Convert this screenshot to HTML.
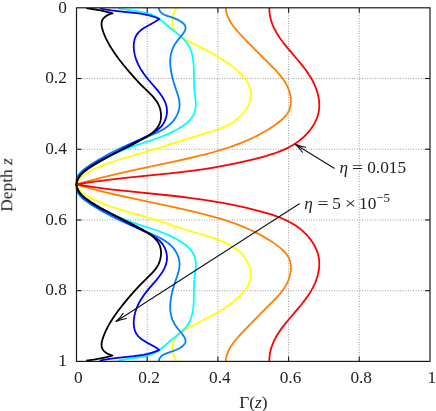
<!DOCTYPE html>
<html><head><meta charset="utf-8"><style>
html,body{margin:0;padding:0;background:#fff;}
svg{display:block;}
text{font-family:"Liberation Serif",serif;font-size:17.3px;fill:#222;}
.tx{filter:grayscale(1);}
</style></head><body>
<svg width="436" height="411" viewBox="0 0 436 411">
<rect x="0" y="0" width="436" height="411" fill="#fff"/>
<defs><clipPath id="cp"><rect x="75" y="7.80" width="360" height="353.60"/></clipPath></defs>
<g stroke="#777" stroke-width="0.8" stroke-dasharray="0.9,1.65" fill="none">
<line x1="147.20" y1="7.80" x2="147.20" y2="361.40"/>
<line x1="76.50" y1="78.52" x2="430.00" y2="78.52"/>
<line x1="217.90" y1="7.80" x2="217.90" y2="361.40"/>
<line x1="76.50" y1="149.24" x2="430.00" y2="149.24"/>
<line x1="288.60" y1="7.80" x2="288.60" y2="361.40"/>
<line x1="76.50" y1="219.96" x2="430.00" y2="219.96"/>
<line x1="359.30" y1="7.80" x2="359.30" y2="361.40"/>
<line x1="76.50" y1="290.68" x2="430.00" y2="290.68"/>
</g>
<g fill="none" stroke-width="1.8" stroke-linejoin="round" clip-path="url(#cp)">
<path d="M225.70,7.50 L225.98,9.96 L226.50,12.54 L227.23,15.01 L228.23,17.58 L229.44,20.06 L230.82,22.45 L232.46,24.93 L234.50,27.65 L236.55,30.14 L239.11,33.01 L247.43,41.77 L259.33,53.94 L273.60,68.19 L277.23,71.99 L280.02,75.16 L282.38,78.14 L284.43,81.08 L286.17,83.98 L287.26,86.10 L288.24,88.30 L289.07,90.57 L289.71,92.73 L290.22,94.96 L290.58,97.26 L290.79,99.58 L290.84,101.90 L290.71,103.97 L290.47,105.79 L290.08,107.54 L289.48,109.39 L288.80,110.98 L287.90,112.65 L286.85,114.23 L285.57,115.88 L283.74,117.87 L281.75,119.73 L279.32,121.75 L276.31,124.02 L272.73,126.53 L269.08,128.91 L265.19,131.28 L261.23,133.54 L257.38,135.58 L253.47,137.53 L249.50,139.38 L245.31,141.21 L241.06,142.96 L236.58,144.68 L231.86,146.38 L227.10,147.99 L220.18,150.17 L213.01,152.25 L205.21,154.34 L196.60,156.49 L187.00,158.75 L176.05,161.21 L132.70,170.45 L113.90,174.65 L103.64,177.11 L94.14,179.52 L85.03,181.99 L76.50,184.45 L85.03,186.91 L94.14,189.38 L103.64,191.79 L113.90,194.25 L132.70,198.45 L176.05,207.69 L187.00,210.15 L196.60,212.41 L205.21,214.56 L213.01,216.65 L220.18,218.73 L227.10,220.91 L231.86,222.52 L236.58,224.22 L241.06,225.94 L245.31,227.69 L249.50,229.52 L253.47,231.37 L257.38,233.32 L261.23,235.36 L265.19,237.62 L269.08,239.99 L272.73,242.37 L276.31,244.88 L279.32,247.15 L281.75,249.17 L283.74,251.03 L285.57,253.02 L286.85,254.67 L287.90,256.25 L288.80,257.92 L289.48,259.51 L290.08,261.36 L290.47,263.11 L290.71,264.93 L290.84,267.00 L290.79,269.32 L290.58,271.64 L290.22,273.94 L289.71,276.17 L289.07,278.33 L288.24,280.60 L287.26,282.80 L286.17,284.92 L284.43,287.82 L282.38,290.76 L280.02,293.74 L277.23,296.91 L273.60,300.71 L259.33,314.96 L247.43,327.13 L239.11,335.89 L236.55,338.76 L234.50,341.25 L232.46,343.97 L230.82,346.45 L229.44,348.84 L228.23,351.32 L227.23,353.89 L226.50,356.36 L225.98,358.94 L225.70,361.40" stroke="#ff8000"/>
<path d="M269.30,7.50 L269.39,10.64 L269.68,13.68 L270.17,16.64 L270.90,19.71 L271.83,22.70 L273.01,25.79 L274.38,28.79 L276.02,31.90 L277.61,34.60 L279.33,37.25 L281.27,40.03 L283.56,43.08 L288.29,48.93 L297.55,59.73 L301.25,64.17 L305.05,69.04 L308.14,73.37 L309.80,75.94 L311.37,78.55 L312.74,81.04 L314.00,83.58 L315.14,86.15 L316.17,88.76 L317.06,91.38 L317.77,93.84 L318.47,96.87 L318.96,99.91 L319.23,102.76 L319.30,105.59 L319.15,108.40 L318.82,111.00 L318.25,113.75 L317.47,116.46 L316.48,119.12 L315.22,121.90 L313.75,124.61 L312.10,127.24 L310.26,129.79 L308.13,132.39 L305.97,134.74 L303.53,137.12 L301.10,139.25 L298.40,141.37 L295.58,143.34 L292.67,145.16 L289.50,146.94 L286.24,148.58 L282.72,150.16 L279.12,151.61 L275.28,153.02 L270.99,154.43 L266.47,155.80 L261.14,157.28 L254.43,159.03 L247.76,160.67 L241.11,162.20 L234.28,163.67 L223.96,165.71 L213.44,167.58 L202.52,169.30 L191.34,170.87 L181.09,172.15 L169.78,173.42 L127.64,177.70 L110.27,179.62 L100.93,180.78 L92.42,181.94 L84.34,183.15 L76.50,184.45 L84.34,185.75 L92.42,186.96 L100.93,188.12 L110.27,189.28 L127.64,191.20 L169.78,195.48 L181.09,196.75 L191.34,198.03 L202.52,199.60 L213.44,201.32 L223.96,203.19 L234.28,205.23 L241.11,206.70 L247.76,208.23 L254.43,209.87 L261.14,211.62 L266.47,213.10 L270.99,214.47 L275.28,215.88 L279.12,217.29 L282.72,218.74 L286.24,220.32 L289.50,221.96 L292.67,223.74 L295.58,225.56 L298.40,227.53 L301.10,229.65 L303.53,231.78 L305.97,234.16 L308.13,236.51 L310.26,239.11 L312.10,241.66 L313.75,244.29 L315.22,247.00 L316.48,249.78 L317.47,252.44 L318.25,255.15 L318.82,257.90 L319.15,260.50 L319.30,263.31 L319.23,266.14 L318.96,268.99 L318.47,272.03 L317.77,275.06 L317.06,277.52 L316.17,280.14 L315.14,282.75 L314.00,285.32 L312.74,287.86 L311.37,290.35 L309.80,292.96 L308.14,295.53 L305.05,299.86 L301.25,304.73 L297.55,309.17 L288.29,319.97 L283.56,325.82 L281.27,328.87 L279.33,331.65 L277.61,334.30 L276.02,337.00 L274.38,340.11 L273.01,343.11 L271.83,346.20 L270.90,349.19 L270.17,352.26 L269.68,355.22 L269.39,358.26 L269.30,361.40" stroke="#ff0000"/>
<path d="M176.50,7.50 L175.53,9.34 L174.76,11.05 L174.02,13.00 L173.47,14.79 L173.00,16.78 L172.70,18.58 L172.53,20.38 L172.50,22.15 L172.62,23.89 L172.85,25.40 L173.25,27.05 L173.75,28.46 L174.38,29.81 L175.15,31.10 L176.05,32.32 L177.07,33.47 L178.65,34.96 L180.40,36.36 L182.45,37.77 L184.80,39.21 L189.30,41.65 L205.05,49.66 L211.89,53.29 L215.54,55.33 L219.03,57.39 L222.21,59.38 L225.43,61.49 L228.87,63.89 L232.15,66.32 L235.03,68.63 L237.65,70.90 L239.99,73.12 L242.20,75.42 L244.10,77.63 L245.82,79.91 L246.93,81.57 L247.92,83.26 L248.79,84.98 L249.53,86.73 L250.12,88.51 L250.53,90.13 L250.81,91.77 L250.95,93.42 L250.95,95.10 L250.81,96.78 L250.55,98.47 L250.11,100.34 L249.54,102.20 L248.84,104.04 L248.02,105.85 L247.08,107.62 L245.27,110.52 L244.21,111.98 L243.09,113.39 L241.92,114.73 L240.69,116.01 L238.09,118.40 L235.16,120.67 L232.05,122.73 L228.61,124.68 L224.65,126.59 L221.68,127.86 L218.65,129.04 L215.17,130.28 L211.45,131.50 L190.30,137.90 L163.92,146.37 L154.34,149.36 L146.17,151.79 L127.68,157.07 L119.57,159.51 L110.74,162.41 L106.74,163.83 L102.78,165.33 L96.98,167.71 L92.02,169.99 L90.06,171.00 L88.16,172.07 L86.48,173.12 L85.03,174.12 L83.49,175.31 L82.18,176.46 L80.95,177.68 L79.92,178.84 L78.85,180.24 L77.98,181.56 L77.20,182.96 L76.50,184.45 L77.20,185.94 L77.98,187.34 L78.85,188.66 L79.92,190.06 L80.95,191.22 L82.18,192.44 L83.49,193.59 L85.03,194.78 L86.48,195.78 L88.16,196.83 L90.06,197.90 L92.02,198.91 L96.98,201.19 L102.78,203.57 L106.74,205.07 L110.74,206.49 L119.57,209.39 L127.68,211.83 L146.17,217.11 L154.34,219.54 L163.92,222.53 L190.30,231.00 L211.45,237.40 L215.17,238.62 L218.65,239.86 L221.68,241.04 L224.65,242.31 L228.61,244.22 L232.05,246.17 L235.16,248.23 L238.09,250.50 L240.69,252.89 L241.92,254.17 L243.09,255.51 L244.21,256.92 L245.27,258.38 L247.08,261.28 L248.02,263.05 L248.84,264.86 L249.54,266.70 L250.11,268.56 L250.55,270.43 L250.81,272.12 L250.95,273.80 L250.95,275.48 L250.81,277.13 L250.53,278.77 L250.12,280.39 L249.53,282.17 L248.79,283.92 L247.92,285.64 L246.93,287.33 L245.82,288.99 L244.10,291.27 L242.20,293.48 L239.99,295.78 L237.65,298.00 L235.03,300.27 L232.15,302.58 L228.87,305.01 L225.43,307.41 L222.21,309.52 L219.03,311.51 L215.54,313.57 L211.89,315.61 L205.05,319.24 L189.30,327.25 L184.80,329.69 L182.45,331.13 L180.40,332.54 L178.65,333.94 L177.07,335.43 L176.05,336.58 L175.15,337.80 L174.38,339.09 L173.75,340.44 L173.25,341.85 L172.85,343.50 L172.62,345.01 L172.50,346.75 L172.53,348.52 L172.70,350.32 L173.00,352.12 L173.47,354.11 L174.02,355.90 L174.76,357.85 L175.53,359.56 L176.50,361.40" stroke="#ffff00"/>
<path d="M118.00,8.20 L120.79,8.82 L124.07,9.40 L137.63,11.26 L140.88,11.79 L143.68,12.32 L146.82,13.06 L149.68,13.89 L152.25,14.82 L154.71,15.92 L156.40,16.82 L158.02,17.83 L159.73,19.04 L161.54,20.47 L169.57,27.51 L177.93,34.12 L180.90,36.58 L183.81,39.31 L185.03,40.59 L186.17,41.91 L187.44,43.60 L188.58,45.37 L189.57,47.22 L190.43,49.15 L191.22,51.31 L191.88,53.54 L192.46,56.00 L192.95,58.70 L193.44,62.80 L193.74,67.35 L193.87,71.75 L193.99,82.08 L194.22,87.59 L194.58,91.67 L195.62,100.00 L195.79,102.21 L195.85,104.20 L195.80,105.97 L195.64,107.73 L195.36,109.46 L195.00,110.97 L194.55,112.44 L193.99,113.87 L193.33,115.25 L192.55,116.58 L191.68,117.85 L190.58,119.22 L189.38,120.52 L188.09,121.76 L186.72,122.95 L185.14,124.21 L183.33,125.53 L181.31,126.89 L177.53,129.21 L173.66,131.33 L169.52,133.34 L164.94,135.34 L160.28,137.17 L155.18,139.00 L149.86,140.79 L134.98,145.62 L130.45,147.18 L126.34,148.70 L121.74,150.55 L117.03,152.62 L112.20,154.92 L107.23,157.46 L100.19,161.31 L92.26,165.92 L88.30,168.44 L86.66,169.60 L85.08,170.82 L83.58,172.10 L82.18,173.45 L81.01,174.74 L79.94,176.10 L78.99,177.54 L78.25,178.90 L77.61,180.32 L77.09,181.83 L76.73,183.21 L76.50,184.45 L76.69,185.49 L77.09,187.07 L77.69,188.76 L78.34,190.18 L79.19,191.69 L80.06,192.95 L81.01,194.16 L82.04,195.31 L83.29,196.54 L84.62,197.70 L86.02,198.82 L89.32,201.14 L92.26,202.98 L96.84,205.68 L101.42,208.28 L105.64,210.60 L109.35,212.54 L113.09,214.41 L116.67,216.11 L120.10,217.65 L125.60,219.92 L131.58,222.12 L137.45,224.10 L152.52,229.00 L156.89,230.50 L160.65,231.87 L164.75,233.49 L168.61,235.14 L172.23,236.85 L175.61,238.60 L179.95,241.14 L183.83,243.73 L186.88,246.08 L188.24,247.27 L189.52,248.52 L190.58,249.68 L191.56,250.89 L192.45,252.16 L193.14,253.31 L193.75,254.50 L194.35,255.92 L194.84,257.37 L195.23,258.87 L195.56,260.59 L195.76,262.34 L195.85,264.11 L195.82,266.10 L195.58,269.30 L194.58,277.23 L194.21,281.51 L193.99,287.02 L193.77,300.76 L193.54,304.92 L193.19,308.45 L192.79,311.17 L192.26,313.85 L191.62,316.29 L190.91,318.50 L190.05,320.64 L189.05,322.70 L187.98,324.50 L186.76,326.23 L185.29,328.02 L183.67,329.73 L181.80,331.52 L179.67,333.37 L169.73,341.26 L167.58,343.09 L162.87,347.30 L160.49,349.27 L157.70,351.28 L156.40,352.08 L154.89,352.89 L152.43,354.00 L149.86,354.95 L147.01,355.79 L143.88,356.53 L141.08,357.08 L137.83,357.61 L124.07,359.50 L120.79,360.08 L118.00,360.70" stroke="#00ffff"/>
<path d="M158.70,7.50 L159.05,9.20 L159.33,9.96 L159.76,10.82 L160.16,11.45 L160.74,12.17 L161.40,12.82 L162.12,13.40 L163.59,14.31 L165.22,15.09 L167.18,15.84 L172.04,17.44 L174.60,18.38 L177.47,19.62 L179.91,20.92 L181.10,21.66 L182.19,22.45 L183.15,23.27 L183.86,24.00 L184.47,24.76 L184.95,25.54 L185.30,26.34 L185.50,27.17 L185.54,28.30 L185.32,29.48 L184.79,30.85 L184.02,32.26 L183.17,33.54 L182.19,34.85 L177.86,40.16 L176.24,42.28 L174.70,44.61 L173.41,46.97 L172.30,49.54 L171.39,52.33 L170.75,55.15 L170.36,58.00 L170.24,59.73 L170.18,61.66 L170.33,65.56 L170.77,69.50 L171.54,73.86 L172.51,78.02 L173.77,82.57 L175.19,87.09 L177.60,94.24 L178.35,96.73 L179.01,99.41 L179.42,101.91 L179.56,103.65 L179.56,105.20 L179.45,106.77 L179.22,108.33 L178.88,109.89 L178.37,111.63 L177.82,113.16 L177.09,114.83 L175.96,116.99 L174.55,119.19 L173.10,121.08 L171.38,122.98 L169.52,124.72 L167.39,126.45 L164.96,128.15 L162.41,129.71 L158.86,131.61 L154.63,133.60 L130.02,143.95 L122.79,147.17 L116.34,150.21 L109.57,153.63 L103.04,157.17 L96.78,160.84 L90.96,164.50 L86.92,167.22 L84.15,169.23 L82.02,171.01 L80.25,172.79 L78.84,174.59 L78.23,175.54 L77.70,176.55 L77.25,177.60 L76.94,178.52 L76.65,179.68 L76.50,180.68 L76.52,188.42 L76.89,190.19 L77.54,192.01 L78.04,193.03 L78.73,194.16 L79.51,195.23 L80.37,196.25 L81.31,197.22 L82.46,198.28 L85.27,200.51 L87.93,202.37 L91.47,204.73 L94.88,206.90 L98.51,209.10 L105.86,213.29 L113.48,217.27 L120.64,220.74 L128.39,224.24 L135.48,227.28 L150.70,233.61 L155.00,235.47 L159.22,237.47 L162.75,239.39 L165.29,240.97 L167.70,242.69 L169.82,244.44 L171.66,246.20 L173.35,248.12 L174.78,250.04 L176.16,252.26 L177.27,254.44 L177.97,256.12 L178.50,257.65 L178.97,259.39 L179.28,260.96 L179.49,262.52 L179.57,264.09 L179.54,265.64 L179.40,267.18 L178.97,269.68 L178.30,272.36 L177.41,275.23 L174.94,282.59 L173.77,286.33 L172.51,290.88 L171.54,295.04 L170.77,299.40 L170.33,303.34 L170.18,307.24 L170.24,309.17 L170.36,310.90 L170.75,313.75 L171.39,316.57 L172.30,319.36 L173.41,321.93 L174.70,324.29 L176.24,326.62 L177.86,328.74 L182.19,334.05 L183.17,335.36 L184.02,336.64 L184.79,338.05 L185.32,339.42 L185.54,340.60 L185.50,341.73 L185.30,342.56 L184.95,343.36 L184.47,344.14 L183.86,344.90 L183.15,345.63 L182.19,346.45 L181.10,347.24 L179.91,347.98 L177.47,349.28 L174.60,350.52 L172.04,351.46 L167.18,353.06 L165.22,353.81 L163.59,354.59 L162.12,355.50 L161.40,356.08 L160.74,356.73 L160.16,357.45 L159.76,358.08 L159.33,358.94 L159.05,359.70 L158.70,361.40" stroke="#0080ff"/>
<path d="M99.70,8.20 L102.38,8.83 L105.09,9.37 L111.38,10.37 L117.57,11.12 L134.06,12.79 L138.83,13.41 L143.16,14.12 L147.99,15.13 L152.15,16.24 L155.83,17.51 L157.62,18.26 L159.20,19.00 L157.40,20.34 L155.09,21.82 L146.56,26.53 L143.20,28.56 L141.56,29.72 L140.17,30.82 L138.90,32.00 L137.88,33.11 L136.76,34.60 L135.84,36.21 L135.03,38.09 L134.43,40.07 L134.02,42.13 L133.79,44.26 L133.73,46.63 L133.85,49.03 L134.08,51.04 L134.45,53.23 L134.93,55.39 L135.58,57.70 L136.33,59.95 L137.20,62.15 L138.17,64.31 L139.24,66.42 L140.50,68.66 L141.87,70.87 L143.45,73.20 L145.13,75.51 L148.49,79.72 L155.25,87.55 L157.79,90.61 L160.40,94.03 L162.41,97.02 L163.50,98.87 L164.47,100.76 L165.24,102.50 L165.88,104.27 L166.38,106.07 L166.71,107.72 L166.92,109.40 L166.99,111.11 L166.95,112.46 L166.83,113.82 L166.34,116.53 L165.54,119.18 L165.03,120.47 L164.44,121.72 L163.16,123.91 L162.37,125.02 L161.51,126.07 L159.63,128.04 L157.38,129.96 L155.76,131.14 L154.08,132.26 L150.16,134.54 L147.01,136.16 L139.72,139.69 L135.93,141.60 L118.51,150.96 L103.31,158.76 L97.43,161.97 L92.40,165.00 L89.05,167.23 L85.98,169.48 L83.69,171.37 L81.73,173.27 L80.10,175.18 L78.82,177.08 L77.77,179.14 L77.06,181.18 L76.64,183.18 L76.50,184.45 L76.54,184.88 L76.70,186.13 L77.01,187.53 L77.42,188.85 L77.93,190.12 L78.44,191.15 L79.12,192.31 L80.58,194.33 L81.46,195.35 L82.55,196.46 L84.90,198.55 L87.91,200.86 L91.39,203.24 L95.16,205.60 L99.55,208.12 L105.29,211.18 L118.86,218.12 L135.58,227.11 L149.43,233.97 L152.68,235.78 L155.60,237.64 L158.00,239.44 L160.05,241.27 L161.76,243.12 L163.27,245.15 L164.53,247.36 L165.54,249.72 L166.29,252.18 L166.80,254.89 L166.96,256.63 L166.98,258.36 L166.87,260.06 L166.62,261.73 L166.25,263.37 L165.70,265.16 L165.02,266.93 L164.13,268.83 L163.22,270.54 L162.20,272.22 L160.99,274.05 L159.56,276.02 L156.33,280.07 L149.17,288.38 L146.26,291.93 L144.64,294.05 L143.10,296.19 L141.76,298.20 L140.50,300.24 L139.15,302.66 L137.92,305.13 L136.83,307.66 L135.94,310.07 L135.19,312.54 L134.57,315.08 L134.11,317.66 L133.84,320.07 L133.73,322.47 L133.80,324.84 L134.05,326.96 L134.47,329.02 L135.09,330.99 L135.84,332.69 L136.76,334.30 L137.88,335.79 L138.90,336.90 L140.17,338.08 L141.56,339.18 L143.20,340.34 L146.56,342.37 L155.09,347.08 L157.40,348.56 L159.20,349.90 L157.62,350.64 L155.83,351.39 L152.15,352.66 L147.99,353.77 L143.16,354.78 L138.83,355.49 L134.06,356.11 L117.57,357.78 L111.38,358.53 L105.09,359.53 L102.38,360.07 L99.70,360.70" stroke="#0000ff"/>
<path d="M86.30,8.20 L93.81,9.24 L100.50,10.42 L106.73,11.81 L109.62,12.56 L112.50,13.40 L110.42,13.99 L108.50,14.74 L106.75,15.65 L105.38,16.58 L104.05,17.74 L103.09,18.87 L102.35,20.08 L101.81,21.54 L101.57,22.91 L101.53,24.50 L101.70,26.15 L102.08,28.02 L102.73,30.28 L103.71,33.10 L104.83,35.88 L106.06,38.62 L107.58,41.68 L109.23,44.68 L111.09,47.82 L113.18,51.07 L115.36,54.26 L117.87,57.73 L120.58,61.28 L123.72,65.23 L129.70,72.41 L135.71,79.18 L139.06,82.77 L142.36,86.16 L152.02,95.70 L154.16,98.08 L156.00,100.43 L157.22,102.27 L158.20,104.02 L159.05,105.87 L159.76,107.81 L160.32,109.80 L160.73,111.84 L160.98,113.89 L161.07,115.94 L160.92,118.55 L160.71,119.92 L160.47,121.06 L159.77,123.24 L159.32,124.28 L158.73,125.45 L157.41,127.52 L155.73,129.59 L153.67,131.65 L151.37,133.57 L149.41,135.01 L147.17,136.49 L144.68,138.00 L141.95,139.54 L132.39,144.58 L113.60,154.07 L106.68,157.66 L99.09,161.86 L95.61,163.92 L92.35,165.95 L88.81,168.30 L85.68,170.53 L83.48,172.26 L81.59,174.00 L80.03,175.73 L78.80,177.45 L77.79,179.31 L77.09,181.16 L76.71,182.75 L76.50,184.45 L76.64,185.73 L76.88,186.96 L77.21,188.12 L77.63,189.23 L78.59,191.13 L79.91,193.02 L81.59,194.90 L83.63,196.76 L86.65,199.09 L91.16,202.18 L95.79,205.09 L100.85,208.05 L105.44,210.58 L110.58,213.29 L130.62,223.42 L139.75,228.17 L142.86,229.86 L145.57,231.43 L147.87,232.86 L149.91,234.24 L152.62,236.34 L154.80,238.33 L156.61,240.33 L158.15,242.48 L159.32,244.62 L159.84,245.84 L160.21,246.92 L160.75,249.18 L161.03,251.75 L161.05,253.78 L160.88,256.03 L160.55,258.08 L160.00,260.30 L159.28,262.46 L158.47,264.33 L157.42,266.29 L156.23,268.14 L154.29,270.67 L152.02,273.20 L142.22,282.88 L138.79,286.42 L135.31,290.16 L129.32,296.94 L123.34,304.14 L120.33,307.94 L117.63,311.50 L115.13,314.97 L112.95,318.17 L110.88,321.43 L109.03,324.57 L107.39,327.58 L105.88,330.65 L104.67,333.39 L103.64,335.99 L102.73,338.62 L102.08,340.88 L101.70,342.75 L101.53,344.40 L101.57,345.99 L101.81,347.36 L102.35,348.82 L103.09,350.03 L104.05,351.16 L105.38,352.32 L106.75,353.25 L108.50,354.16 L110.42,354.91 L112.50,355.50 L109.62,356.34 L106.73,357.09 L100.50,358.48 L93.81,359.66 L86.30,360.70" stroke="#000000"/>
</g>
<rect x="76.50" y="7.80" width="353.50" height="353.60" fill="none" stroke="#1a1a1a" stroke-width="1.2"/>
<g stroke="#1a1a1a" stroke-width="1.1">
<line x1="147.20" y1="7.80" x2="147.20" y2="12.80"/>
<line x1="147.20" y1="361.40" x2="147.20" y2="356.40"/>
<line x1="76.50" y1="78.52" x2="81.50" y2="78.52"/>
<line x1="430.00" y1="78.52" x2="425.00" y2="78.52"/>
<line x1="217.90" y1="7.80" x2="217.90" y2="12.80"/>
<line x1="217.90" y1="361.40" x2="217.90" y2="356.40"/>
<line x1="76.50" y1="149.24" x2="81.50" y2="149.24"/>
<line x1="430.00" y1="149.24" x2="425.00" y2="149.24"/>
<line x1="288.60" y1="7.80" x2="288.60" y2="12.80"/>
<line x1="288.60" y1="361.40" x2="288.60" y2="356.40"/>
<line x1="76.50" y1="219.96" x2="81.50" y2="219.96"/>
<line x1="430.00" y1="219.96" x2="425.00" y2="219.96"/>
<line x1="359.30" y1="7.80" x2="359.30" y2="12.80"/>
<line x1="359.30" y1="361.40" x2="359.30" y2="356.40"/>
<line x1="76.50" y1="290.68" x2="81.50" y2="290.68"/>
<line x1="430.00" y1="290.68" x2="425.00" y2="290.68"/>
</g>
<g class="tx">
<text x="78.40" y="383.00" text-anchor="middle">0</text>
<text x="66.80" y="12.50" text-anchor="end">0</text>
<text x="149.10" y="383.00" text-anchor="middle">0.2</text>
<text x="66.80" y="83.22" text-anchor="end">0.2</text>
<text x="219.80" y="383.00" text-anchor="middle">0.4</text>
<text x="66.80" y="153.94" text-anchor="end">0.4</text>
<text x="290.50" y="383.00" text-anchor="middle">0.6</text>
<text x="66.80" y="224.66" text-anchor="end">0.6</text>
<text x="361.20" y="383.00" text-anchor="middle">0.8</text>
<text x="66.80" y="295.38" text-anchor="end">0.8</text>
<text x="431.90" y="383.00" text-anchor="middle">1</text>
<text x="66.80" y="366.10" text-anchor="end">1</text>

<text x="253.3" y="407.6" text-anchor="middle">Γ(<tspan font-style="italic">z</tspan>)</text>
<text transform="translate(12.3,184.9) rotate(-90)" text-anchor="middle">Depth <tspan font-style="italic">z</tspan></text>
</g>
<g stroke="#111" stroke-width="1.05" fill="none" stroke-linecap="round">
<line x1="334.20" y1="168.30" x2="295.20" y2="144.30"/>
<path d="M305.60,147.21 Q300.11,146.55 295.20,144.30 Q299.42,147.67 302.48,152.28"/>
<line x1="299.40" y1="203.80" x2="116.00" y2="321.50"/>
<path d="M123.13,313.39 Q120.16,318.05 116.00,321.50 Q120.87,319.16 126.34,318.40"/>

</g>
<g class="tx">
<text x="339.6" y="172.6" font-style="italic">η</text>
<text x="352" y="172.6" textLength="11" lengthAdjust="spacingAndGlyphs">=</text>
<text x="367.2" y="172.6">0.015</text>
<text x="304.2" y="208.5" font-style="italic">η</text>
<text x="317.4" y="208.5" textLength="11" lengthAdjust="spacingAndGlyphs">=</text>
<text x="332.2" y="208.5">5</text>
<text x="344.8" y="208.5" textLength="11.4" lengthAdjust="spacingAndGlyphs">×</text>
<text x="359.1" y="208.5">10</text>
<text x="376.2" y="202.4" style="font-size:13px">−5</text>
</g>
</svg>
</body></html>
